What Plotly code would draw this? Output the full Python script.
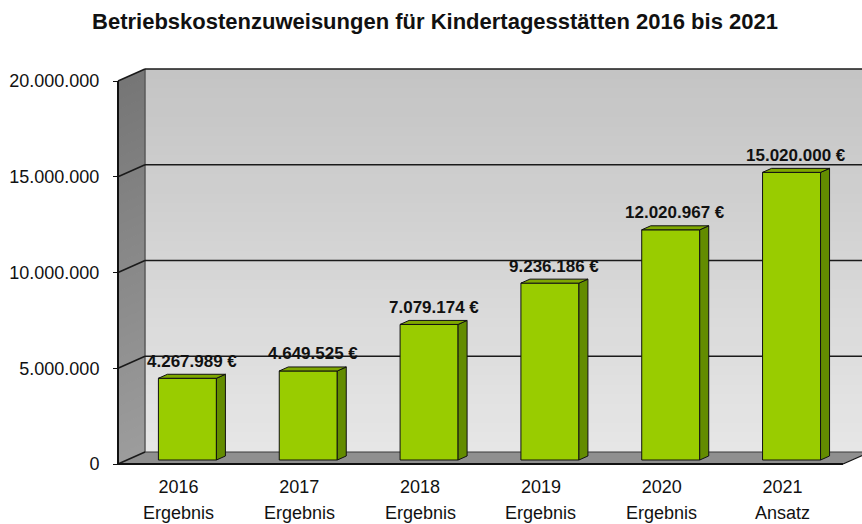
import plotly.graph_objects as go

# ---------------- data ----------------
years = ["2016", "2017", "2018", "2019", "2020", "2021"]
kinds = ["Ergebnis", "Ergebnis", "Ergebnis", "Ergebnis", "Ergebnis", "Ansatz"]
values = [4267989, 4649525, 7079174, 9236186, 12020967, 15020000]
y_ticks = [0, 5000000, 10000000, 15000000, 20000000]
title = "Betriebskostenzuweisungen für Kindertagesstätten 2016 bis 2021"

# ---------------- geometry (pixels -> axis units) ----------------
W, H = 862, 524
ML, MR, MT, MB = 108, 0, 55, 52
PLOT_W = W - ML - MR
PLOT_H = H - MT - MB
Y0_PX, YTOP_PX = 464, 81          # pixel rows of value 0 and of top tick
Y_SCALE = (Y0_PX - YTOP_PX) / y_ticks[-1]   # px per euro
X_STEP = 120.83                    # px per category
X_LEFT_PX = 118                    # front-left wall edge (x = -0.5)
DEPTH_X_PX, DEPTH_Y_PX = 27, 12

y_min = -(H - MB - Y0_PX) / Y_SCALE
y_max = (Y0_PX - MT) / Y_SCALE
x_min = -0.5 - (X_LEFT_PX - ML) / X_STEP
x_max = -0.5 + (W - MR - X_LEFT_PX) / X_STEP
DX = DEPTH_X_PX / X_STEP
DY = DEPTH_Y_PX / Y_SCALE
n = len(values)
x_far = x_max + 1
top = y_ticks[-1]
bar_w = 58 / X_STEP


def lerp_color(c1, c2, t):
    a = [int(c1[i:i + 2], 16) for i in (1, 3, 5)]
    b = [int(c2[i:i + 2], 16) for i in (1, 3, 5)]
    return "#%02x%02x%02x" % tuple(round(a[k] + (b[k] - a[k]) * t) for k in range(3))


shapes = []
NB = 40
# back wall (vertical gradient, light at bottom)
for k in range(NB):
    ya = DY + top * k / NB
    yb = DY + top * (k + 1) / NB + top * 0.002
    shapes.append(dict(type="rect", xref="x", yref="y", layer="below",
                       x0=-0.5 + DX, x1=x_far, y0=ya, y1=min(yb, top + DY),
                       fillcolor=lerp_color("#e6e6e6", "#c4c4c4", k / (NB - 1)),
                       line=dict(width=0)))
# left wall (parallelogram bands)
for k in range(NB):
    ya = top * k / NB
    yb = min(top * (k + 1) / NB + top * 0.002, top)
    path = (f"M {-0.5},{ya} L {-0.5 + DX},{ya + DY} L {-0.5 + DX},{yb + DY} "
            f"L {-0.5},{yb} Z")
    shapes.append(dict(type="path", xref="x", yref="y", layer="below", path=path,
                       fillcolor=lerp_color("#9c9c9c", "#767676", k / (NB - 1)),
                       line=dict(width=0)))
# floor
shapes.append(dict(type="path", xref="x", yref="y", layer="below",
                   path=f"M -0.5,0 L {n - 0.5},0 L {n - 0.5 + DX},{DY} L {-0.5 + DX},{DY} Z",
                   fillcolor="#8f8f8f", line=dict(width=0)))
# back wall left edge
shapes.append(dict(type="line", xref="x", yref="y", layer="below",
                   x0=-0.5 + DX, x1=-0.5 + DX, y0=DY, y1=top + DY,
                   line=dict(color="#5a5a5a", width=1.5)))
# floor back edge
shapes.append(dict(type="line", xref="x", yref="y", layer="below",
                   x0=-0.5 + DX, x1=n - 0.5 + DX, y0=DY, y1=DY,
                   line=dict(color="#3a3a3a", width=1)))
# grid lines (back wall + left wall diagonals)
for v in y_ticks:
    if v > 0:
        shapes.append(dict(type="line", xref="x", yref="y", layer="below",
                           x0=-0.5 + DX, x1=x_far, y0=v + DY, y1=v + DY,
                           line=dict(color="#1a1a1a", width=1.6)))
    shapes.append(dict(type="line", xref="x", yref="y", layer="below",
                       x0=-0.5, x1=-0.5 + DX, y0=v, y1=v + DY,
                       line=dict(color="#1a1a1a", width=1.6)))
# front edges
shapes.append(dict(type="line", xref="x", yref="y", layer="below",
                   x0=-0.5, x1=-0.5, y0=0, y1=top,
                   line=dict(color="#111111", width=2)))
shapes.append(dict(type="line", xref="x", yref="y", layer="below",
                   x0=-0.5, x1=n - 0.5, y0=0, y1=0,
                   line=dict(color="#111111", width=2)))
shapes.append(dict(type="line", xref="x", yref="y", layer="below",
                   x0=n - 0.5, x1=n - 0.5 + DX, y0=0, y1=DY,
                   line=dict(color="#111111", width=1.2)))

fig = go.Figure()

# bar front faces
bar_x = [i + DX / 3 for i in range(n)]
fig.add_trace(go.Bar(
    x=bar_x, y=values, base=DY / 3, width=bar_w,
    marker=dict(color="#99cc00", line=dict(color="#111111", width=1)),
    hoverinfo="skip", showlegend=False))

# side and top faces
side_x, side_y, top_x, top_y = [], [], [], []
for i, v in enumerate(values):
    xl = bar_x[i] - bar_w / 2
    xr = bar_x[i] + bar_w / 2
    b0, b1 = DY / 3, 2 * DY / 3
    side_x += [xr, xr, xr + DX / 3, xr + DX / 3, xr, None]
    side_y += [b0, v + b0, v + b1, b1, b0, None]
    top_x += [xl, xr, xr + DX / 3, xl + DX / 3, xl, None]
    top_y += [v + b0, v + b0, v + b1, v + b1, v + b0, None]
fig.add_trace(go.Scatter(x=side_x, y=side_y, mode="lines", fill="toself",
                         fillcolor="#638c00", line=dict(color="#111111", width=1),
                         hoverinfo="skip", showlegend=False))
fig.add_trace(go.Scatter(x=top_x, y=top_y, mode="lines", fill="toself",
                         fillcolor="#7fa800", line=dict(color="#111111", width=1),
                         hoverinfo="skip", showlegend=False))

annotations = []
for i, v in enumerate(values):
    label = f"{v:,}".replace(",", ".") + " €"
    annotations.append(dict(x=i + DX / 2, y=v + DY / 2, xref="x", yref="y",
                            text=f"<b>{label}</b>", showarrow=False,
                            yanchor="middle", yshift=15,
                            font=dict(size=17, color="#111111")))
for i, k in enumerate(kinds):
    annotations.append(dict(x=i, y=0, xref="x", yref="paper", text=k,
                            showarrow=False, yanchor="middle", yshift=-41,
                            font=dict(size=18, color="#111111")))

fig.update_layout(
    width=W, height=H,
    margin=dict(l=ML, r=MR, t=MT, b=MB, pad=0),
    paper_bgcolor="white", plot_bgcolor="white",
    font=dict(family="Liberation Sans, Arial, sans-serif", color="#111111"),
    separators=",.",
    title=dict(text=f"<b>{title}</b>", x=435 / W, xref="container", xanchor="center",
               y=1 - 21 / H, yref="container", yanchor="middle",
               font=dict(size=22, color="#111111")),
    xaxis=dict(range=[x_min, x_max], tickvals=list(range(n)), ticktext=years,
               showgrid=False, zeroline=False, showline=False, ticks="",
               ticklabelstandoff=2,
               tickfont=dict(size=18), automargin=False, fixedrange=True),
    yaxis=dict(range=[y_min, y_max], tickvals=y_ticks, tickformat=",d",
               anchor="free", position=(X_LEFT_PX - ML) / PLOT_W,
               showgrid=False, zeroline=False, showline=False,
               ticks="outside", ticklen=5, tickcolor="#111111", tickwidth=1,
               ticklabelstandoff=10,
               tickfont=dict(size=18), automargin=False, fixedrange=True),
    shapes=shapes, annotations=annotations, bargap=0,
)

fig.write_html("out.html", config={"displayModeBar": False, "staticPlot": True},
               post_script="document.body.style.margin='0px';document.body.style.padding='0px';")
